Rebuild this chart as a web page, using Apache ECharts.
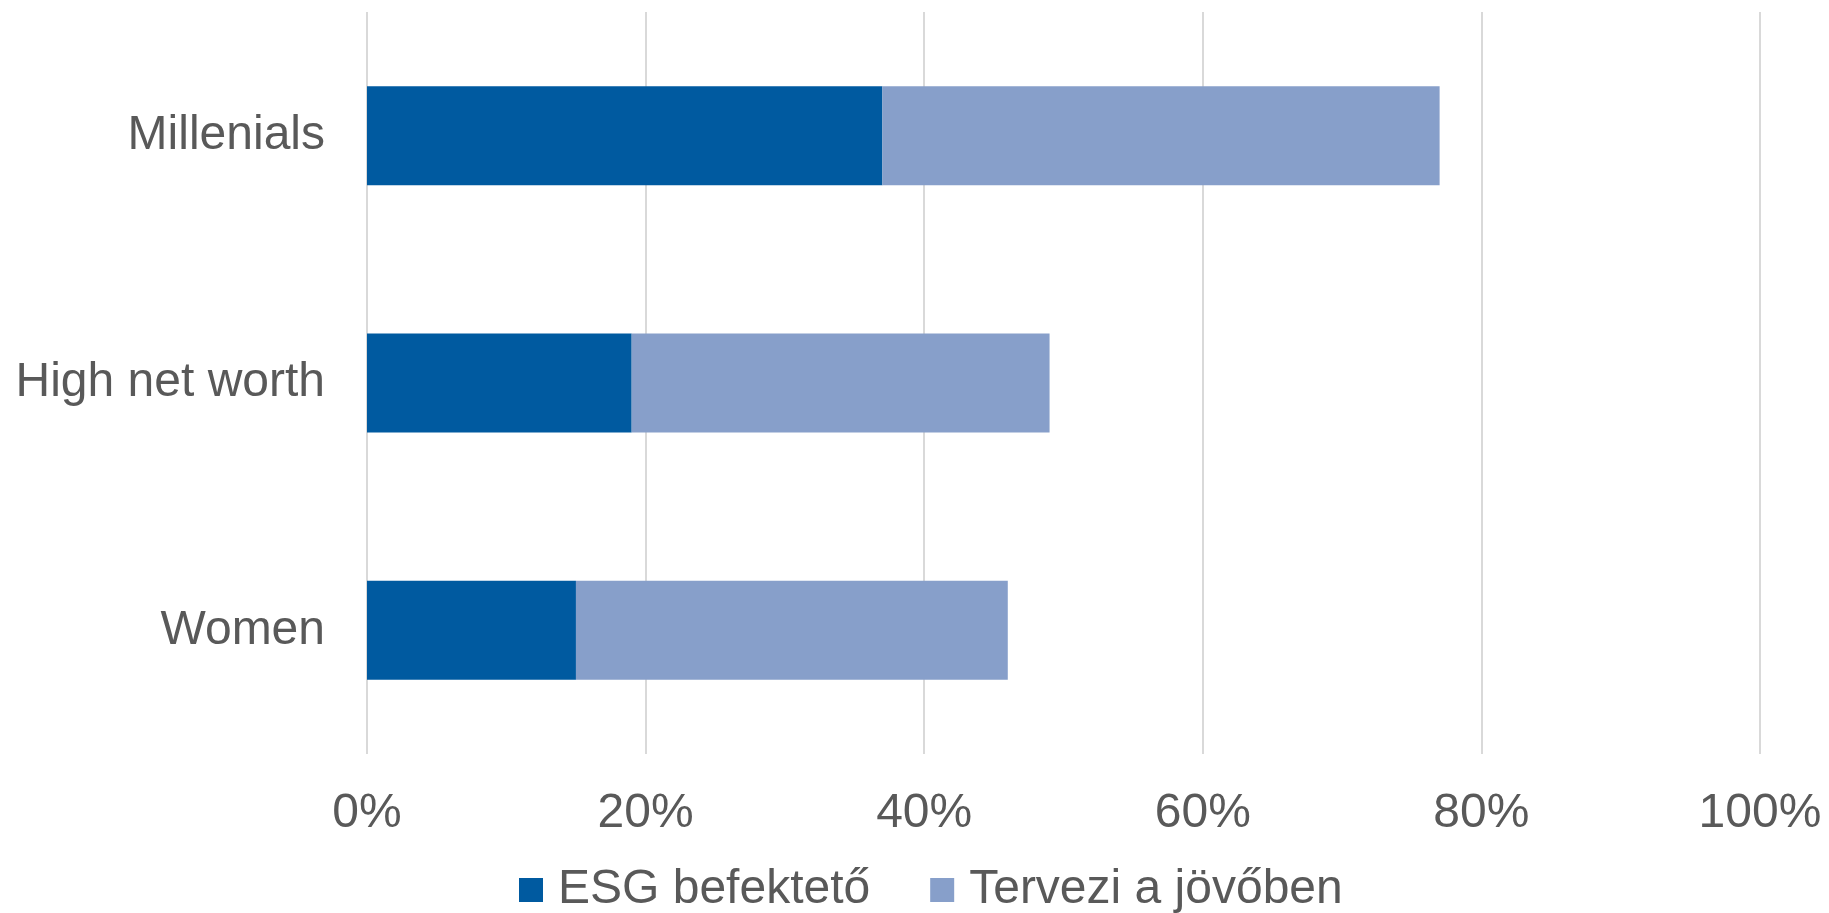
<!DOCTYPE html>
<html>
<head>
<meta charset="utf-8">
<script src="https://cdn.jsdelivr.net/npm/echarts@6/dist/echarts.min.js"></script>
<style>
  html, body { margin: 0; padding: 0; background: #fff; }
  #chart { width: 1829px; height: 913px; }
</style>
</head>
<body>
<div id="chart"></div>
<script>
// categories bottom -> top (category y axis starts at the bottom)
const categories = ['Women', 'High net worth', 'Millenials']
const esgInvestor = [15, 19, 37]     // ESG befektető
const planning = [31, 30, 40]        // Tervezi a jövőben
const seriesNames = ['ESG befektető', 'Tervezi a jövőben']

const textColor = '#595959'
const font = 'Liberation Sans, Arial, sans-serif'

const chart = echarts.init(document.getElementById('chart'))
chart.setOption({
  animation: false,
  textStyle: { fontFamily: font },
  grid: { left: 367, right: 69, top: 12, bottom: 159, containLabel: false },
  legend: {
    data: seriesNames,
    left: 519,
    top: 866,
    padding: 0,
    itemWidth: 24,
    itemHeight: 24,
    itemGap: 60,
    icon: 'rect',
    textStyle: { fontSize: 48, color: textColor, fontFamily: font, lineHeight: 48, padding: [0, 0, 0, 10] }
  },
  xAxis: {
    type: 'value',
    min: 0,
    max: 100,
    interval: 20,
    axisLine: { show: false },
    axisTick: { show: false },
    splitLine: { lineStyle: { color: '#d9d9d9', width: 2 } },
    axisLabel: { formatter: '{value}%', fontSize: 48, color: textColor, margin: 36, fontFamily: font }
  },
  yAxis: {
    type: 'category',
    data: categories,
    axisLine: { show: false },
    axisTick: { show: false },
    axisLabel: { fontSize: 48, color: textColor, margin: 42, fontFamily: font, padding: [6, 0, 0, 0] }
  },
  series: [
    {
      name: seriesNames[0], type: 'bar', stack: 'total', data: esgInvestor,
      barWidth: '40%', itemStyle: { color: '#005AA0' }
    },
    {
      name: seriesNames[1], type: 'bar', stack: 'total', data: planning,
      barWidth: '40%', itemStyle: { color: '#879FCA' }
    }
  ]
})
</script>
</body>
</html>
